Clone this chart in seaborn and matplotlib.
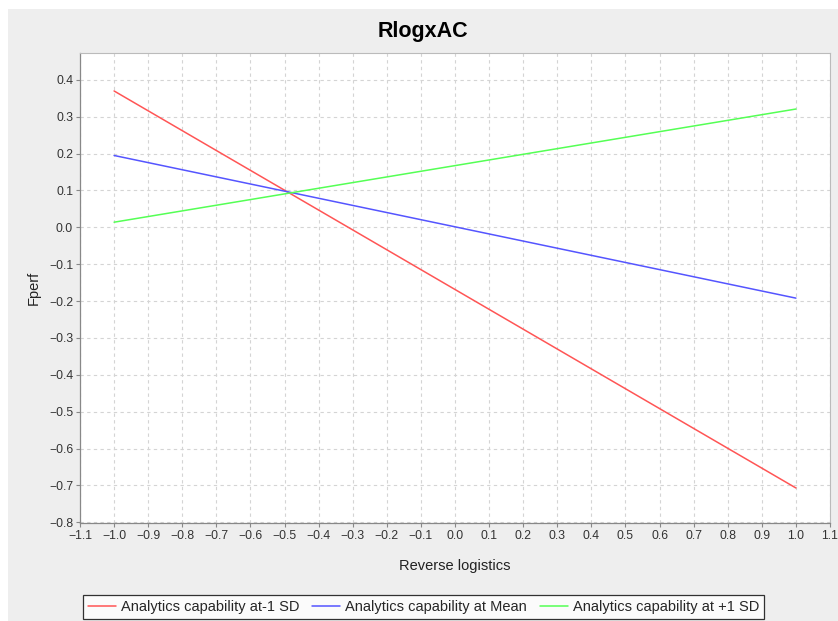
import numpy as np
import pandas as pd
import matplotlib
matplotlib.use("Agg")
import matplotlib.pyplot as plt
import seaborn as sns
from matplotlib.patches import Rectangle

# ---- data ----
x_vals = [-1.0, 1.0]
low_sd = [0.370, -0.707]
mean_ac = [0.195, -0.192]
high_sd = [0.014, 0.321]
series_names = ["Analytics capability at-1 SD",
                "Analytics capability at Mean",
                "Analytics capability at +1 SD"]
x_ticks = [-1.1, -1.0, -0.9, -0.8, -0.7, -0.6, -0.5, -0.4, -0.3, -0.2, -0.1,
           0.0, 0.1, 0.2, 0.3, 0.4, 0.5, 0.6, 0.7, 0.8, 0.9, 1.0, 1.1]
y_ticks = [-0.8, -0.7, -0.6, -0.5, -0.4, -0.3, -0.2, -0.1, 0.0, 0.1, 0.2, 0.3, 0.4]

df = pd.DataFrame({
    "Reverse logistics": x_vals * 3,
    "Fperf": low_sd + mean_ac + high_sd,
    "series": [series_names[0]] * 2 + [series_names[1]] * 2 + [series_names[2]] * 2,
})

sns.set_theme(style="white")
plt.rcParams["font.family"] = ["Liberation Sans", "DejaVu Sans"]
plt.rcParams["axes.unicode_minus"] = True

W, H = 838, 621
fig = plt.figure(figsize=(W / 100, H / 100), dpi=100)
fig.patch.set_facecolor("white")
bg = Rectangle((8 / W, 0), 1 - 8 / W, 1 - 9 / H, transform=fig.transFigure,
               facecolor="#eeeeee", edgecolor="none", zorder=-10)
fig.patches.append(bg)

ax = fig.add_axes([80 / W, 1 - 523 / H, 750 / W, 470 / H])
ax.set_zorder(1)
ax.set_facecolor("white")

palette = {series_names[0]: "#ff5555", series_names[1]: "#5555ff", series_names[2]: "#55ff55"}
sns.lineplot(data=df, x="Reverse logistics", y="Fperf", hue="series",
             palette=palette, ax=ax, linewidth=1.1, legend=True)

ax.set_xlim(-1.1, 1.1)
ax.set_ylim(-0.802, 0.473)
ax.set_xticks(x_ticks)
ax.set_yticks(y_ticks)


def fmt(v):
    s = f"{abs(v):.1f}"
    return ("\u2212" + s) if v < -1e-9 else s


ax.set_xticklabels([fmt(v) for v in x_ticks])
ax.set_yticklabels([fmt(v) for v in y_ticks])
ax.tick_params(axis="both", which="both", length=3, width=0.8, color="#888888",
               labelsize=8.8, labelcolor="#333333", pad=2, direction="out",
               bottom=True, left=True)
ax.grid(True, color="#d4d4d4", linestyle=(0, (3, 3)), linewidth=0.8)
for side in ["top", "right"]:
    ax.spines[side].set_color("#bbbbbb")
    ax.spines[side].set_linewidth(0.8)
for side in ["left", "bottom"]:
    ax.spines[side].set_color("#888888")
    ax.spines[side].set_linewidth(0.9)

ax.set_xlabel("Reverse logistics", fontsize=10.5, color="#222222", labelpad=12)
ax.set_ylabel("Fperf", fontsize=10.5, color="#222222", labelpad=6)

fig.text(423 / W, 1 - 31 / H, "RlogxAC", ha="center", va="center",
         fontsize=15.5, fontweight="bold", color="black")

handles, labels = ax.get_legend_handles_labels()
ax.get_legend().remove()
leg = fig.legend(handles, labels, loc="upper center", bbox_to_anchor=(423.5 / W, 1 - 595 / H),
                 ncol=3, fontsize=10.5, frameon=True, fancybox=False, handlelength=1.9,
                 handletextpad=0.35, columnspacing=0.9, borderpad=0.35, borderaxespad=0)
leg.get_frame().set_edgecolor("black")
leg.get_frame().set_linewidth(0.9)
leg.get_frame().set_facecolor("white")
leg.set_zorder(5)

fig.savefig("out.png", dpi=100)
